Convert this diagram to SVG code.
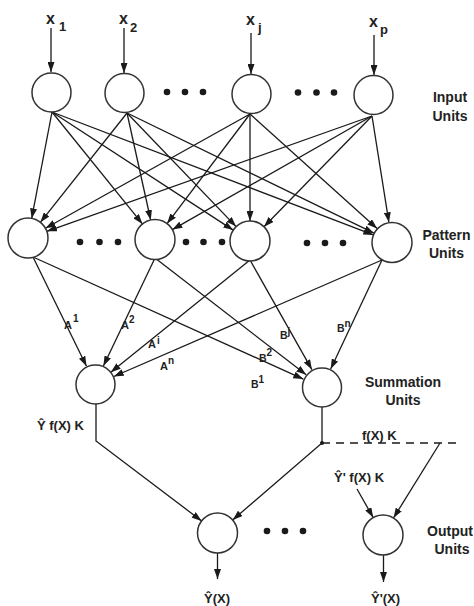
<svg xmlns="http://www.w3.org/2000/svg" width="474" height="606" viewBox="0 0 474 606">
<defs>
<style>
.node{fill:#fff;stroke:#333;stroke-width:1.5}
.dot{fill:#1a1a1a}
.c{stroke:#1a1a1a;stroke-width:1.3;fill:none}
.a{stroke:#1a1a1a;stroke-width:1.3;fill:none;marker-end:url(#ah)}
.dash{stroke:#1a1a1a;stroke-width:1.3;fill:none;stroke-dasharray:8 6}
text{font-family:"Liberation Sans",Arial,sans-serif;font-weight:bold;fill:#222}
.lbl{font-size:14px;text-anchor:middle}
.x{font-size:16px}
.sub{font-size:13px}
.w{font-size:11px}
.wb{font-size:10.5px}
.sp{font-size:10px}
.f{font-size:13px}
</style>
<marker id="ah" markerUnits="userSpaceOnUse" markerWidth="10" markerHeight="7" refX="10" refY="3.5" orient="auto">
<path d="M0,0 L10,3.5 L0,7 z" fill="#1a1a1a"/>
</marker>
</defs>
<rect width="474" height="606" fill="#fff"/>

<g id="connectors">
<line class="a" x1="51" y1="28" x2="51" y2="72"/>
<line class="a" x1="124" y1="28" x2="124" y2="73"/>
<line class="a" x1="251" y1="33" x2="251" y2="74"/>
<line class="a" x1="374" y1="35" x2="374" y2="75"/>
<line class="a" x1="52" y1="112" x2="31.7" y2="218.4"/>
<line class="a" x1="52" y1="112" x2="142.4" y2="223.9"/>
<line class="a" x1="52" y1="112" x2="233.2" y2="230.1"/>
<line class="a" x1="52" y1="112" x2="373.3" y2="234.9"/>
<line class="a" x1="127" y1="113" x2="40.4" y2="222.3"/>
<line class="a" x1="127" y1="113" x2="150.7" y2="220"/>
<line class="a" x1="127" y1="113" x2="236.1" y2="226.6"/>
<line class="a" x1="127" y1="113" x2="374" y2="233.2"/>
<line class="a" x1="250" y1="114" x2="45.5" y2="228.2"/>
<line class="a" x1="250" y1="114" x2="167.1" y2="223.6"/>
<line class="a" x1="250" y1="114" x2="250" y2="221"/>
<line class="a" x1="250" y1="114" x2="377.1" y2="228.6"/>
<line class="a" x1="372" y1="116" x2="46.9" y2="231.3"/>
<line class="a" x1="372" y1="116" x2="172.4" y2="229.6"/>
<line class="a" x1="372" y1="116" x2="264" y2="226.7"/>
<line class="a" x1="372" y1="116" x2="388.9" y2="222.3"/>
<line class="a" x1="33" y1="257" x2="86.5" y2="366.2"/>
<line class="a" x1="155" y1="258" x2="103.4" y2="366"/>
<line class="a" x1="250" y1="260" x2="110.8" y2="372.2"/>
<line class="a" x1="382" y1="260" x2="113.8" y2="376.5"/>
<line class="a" x1="33" y1="257" x2="303.3" y2="379.1"/>
<line class="a" x1="155" y1="258" x2="306.2" y2="374.8"/>
<line class="a" x1="250" y1="260" x2="311.9" y2="369.6"/>
<line class="a" x1="382" y1="260" x2="330.7" y2="369"/>
<polyline class="a" points="96,404 96,441 201.6,520.9"/>
<polyline class="a" points="322,407 322,443 232.7,519.9"/>
<line class="dash" x1="322" y1="443" x2="458" y2="443"/>
<line class="a" x1="440" y1="443" x2="393.5" y2="518"/>
<line class="a" x1="357" y1="489" x2="373.2" y2="517.6"/>
<circle class="dot" cx="322" cy="443" r="2"/>
<line class="a" x1="217.5" y1="553" x2="217.5" y2="579"/>
<line class="a" x1="383.5" y1="555" x2="383.5" y2="582"/>
</g>

<g id="input-units">
<circle id="in1" class="node" cx="51.5" cy="92.5" r="19.5"/>
<circle id="in2" class="node" cx="124.5" cy="93" r="19.5"/>
<circle id="inj" class="node" cx="251.5" cy="94" r="19.5"/>
<circle id="inp" class="node" cx="373.5" cy="95" r="19.5"/>
<circle class="dot" cx="167" cy="92" r="3.3"/>
<circle class="dot" cx="185" cy="92" r="3.3"/>
<circle class="dot" cx="203" cy="92" r="3.3"/>
<circle class="dot" cx="298" cy="92.5" r="3.3"/>
<circle class="dot" cx="316.5" cy="92.5" r="3.3"/>
<circle class="dot" cx="334" cy="92.5" r="3.3"/>
</g>

<g id="pattern-units">
<circle id="pat1" class="node" cx="28" cy="238" r="20"/>
<circle id="pat2" class="node" cx="155" cy="239.5" r="20"/>
<circle id="pat3" class="node" cx="250" cy="241" r="20"/>
<circle id="pat4" class="node" cx="392" cy="242.5" r="20"/>
<circle class="dot" cx="80" cy="242" r="3.3"/>
<circle class="dot" cx="99.5" cy="242" r="3.3"/>
<circle class="dot" cx="118" cy="242" r="3.3"/>
<circle class="dot" cx="186" cy="242" r="3.3"/>
<circle class="dot" cx="203.5" cy="242" r="3.3"/>
<circle class="dot" cx="222" cy="242" r="3.3"/>
<circle class="dot" cx="307" cy="243" r="3.3"/>
<circle class="dot" cx="325" cy="243" r="3.3"/>
<circle class="dot" cx="343" cy="243" r="3.3"/>
</g>

<g id="summation-units">
<circle id="sumA" class="node" cx="95.5" cy="384.5" r="19.5"/>
<circle id="sumB" class="node" cx="322" cy="387.5" r="19.5"/>
</g>

<g id="output-units">
<circle id="out1" class="node" cx="217.5" cy="533" r="20"/>
<circle id="out2" class="node" cx="383" cy="535" r="20"/>
<circle class="dot" cx="267" cy="531" r="3.3"/>
<circle class="dot" cx="285" cy="531" r="3.3"/>
<circle class="dot" cx="303" cy="531" r="3.3"/>
</g>

<g id="labels">
<text class="x" x="46" y="24">x</text><text class="sub" x="59" y="31">1</text>
<text class="x" x="119" y="24">x</text><text class="sub" x="130" y="32">2</text>
<text class="x" x="246" y="25">x</text><text class="sub" x="258" y="32">j</text>
<text class="x" x="369" y="27">x</text><text class="sub" x="380" y="34">p</text>

<text class="lbl" x="450" y="102">Input</text>
<text class="lbl" x="450" y="121">Units</text>
<text class="lbl" x="446.5" y="240">Pattern</text>
<text class="lbl" x="446.5" y="258">Units</text>
<text class="lbl" x="403" y="387">Summation</text>
<text class="lbl" x="403" y="405">Units</text>
<text class="lbl" x="450" y="536">Output</text>
<text class="lbl" x="452" y="554">Units</text>

<text class="w" x="64" y="329">A<tspan class="sp" dy="-7" dx="1">1</tspan></text>
<text class="w" x="121" y="329">A<tspan class="sp" dy="-6">2</tspan></text>
<text class="w" x="148" y="348">A<tspan class="sp" dy="-4" dx="1">i</tspan></text>
<text class="w" x="160" y="370">A<tspan class="sp" dy="-6">n</tspan></text>
<text class="wb" x="251" y="388">B<tspan class="sp" dy="-5">1</tspan></text>
<text class="wb" x="259" y="362">B<tspan class="sp" dy="-6">2</tspan></text>
<text class="wb" x="280" y="339">B<tspan class="sp" dy="-4">j</tspan></text>
<text class="wb" x="337" y="332">B<tspan class="sp" dy="-5">n</tspan></text>

<text class="f" x="37" y="430">Ŷ f(X) K</text>
<text class="f" x="362" y="440">f(X) K</text>
<text class="f" x="334" y="482">Ŷ' f(X) K</text>
<text class="f" x="204" y="603">Ŷ(X)</text>
<text class="f" x="371" y="603">Ŷ'(X)</text>
</g>
</svg>
